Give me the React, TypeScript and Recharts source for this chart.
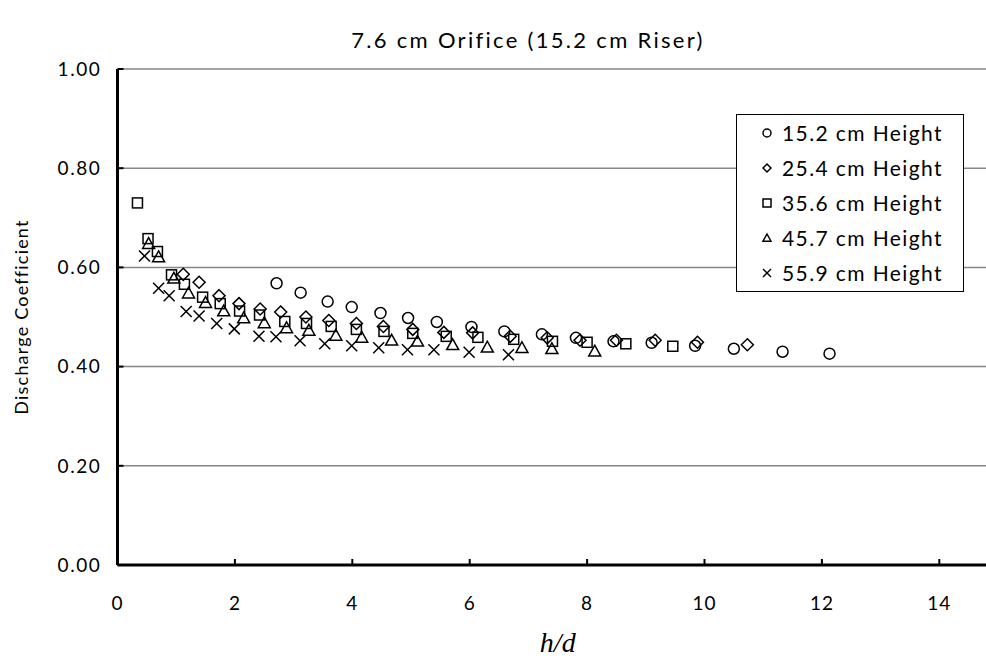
import { ScatterChart, Scatter, XAxis, YAxis, CartesianGrid, Legend } from "recharts";

const FONT = "Lato, 'Open Sans', sans-serif";

// h/d and discharge coefficient per riser height
const hd152 = [2.71, 3.12, 3.58, 3.99, 4.48, 4.95, 5.44, 6.03, 6.59, 7.23, 7.81, 8.45, 9.1, 9.84, 10.5, 11.33, 12.13];
const cd152 = [0.568, 0.549, 0.531, 0.52, 0.508, 0.498, 0.49, 0.48, 0.471, 0.465, 0.458, 0.451, 0.448, 0.442, 0.436, 0.43, 0.426];

const hd254 = [1.12, 1.39, 1.73, 2.07, 2.43, 2.78, 3.21, 3.6, 4.07, 4.53, 5.03, 5.56, 6.05, 6.69, 7.32, 7.88, 8.5, 9.16, 9.88, 10.73];
const cd254 = [0.586, 0.57, 0.543, 0.527, 0.516, 0.51, 0.5, 0.493, 0.487, 0.481, 0.475, 0.469, 0.468, 0.461, 0.458, 0.453, 0.453, 0.453, 0.449, 0.444];

const hd356 = [0.34, 0.52, 0.68, 0.92, 1.14, 1.45, 1.75, 2.08, 2.42, 2.85, 3.22, 3.64, 4.07, 4.54, 5.03, 5.6, 6.14, 6.75, 7.41, 8.0, 8.66, 9.46];
const cd356 = [0.73, 0.658, 0.632, 0.585, 0.566, 0.54, 0.527, 0.512, 0.504, 0.491, 0.487, 0.481, 0.475, 0.471, 0.467, 0.461, 0.459, 0.455, 0.451, 0.449, 0.446, 0.441];

const hd457 = [0.53, 0.7, 0.96, 1.21, 1.5, 1.81, 2.15, 2.5, 2.88, 3.26, 3.72, 4.16, 4.67, 5.11, 5.71, 6.3, 6.89, 7.4, 8.13];
const cd457 = [0.648, 0.621, 0.578, 0.548, 0.529, 0.512, 0.498, 0.488, 0.478, 0.473, 0.463, 0.459, 0.453, 0.451, 0.444, 0.439, 0.438, 0.436, 0.431];

const hd559 = [0.46, 0.7, 0.88, 1.17, 1.39, 1.69, 1.99, 2.41, 2.7, 3.11, 3.53, 3.99, 4.45, 4.94, 5.39, 5.99, 6.66];
const cd559 = [0.623, 0.558, 0.543, 0.511, 0.502, 0.487, 0.476, 0.461, 0.46, 0.452, 0.446, 0.442, 0.438, 0.434, 0.434, 0.429, 0.424];

const seriesNames = ["15.2 cm Height", "25.4 cm Height", "35.6 cm Height", "45.7 cm Height", "55.9 cm Height"];
const xTicks = [0, 2, 4, 6, 8, 10, 12, 14];
const yTicks = [0, 0.2, 0.4, 0.6, 0.8, 1.0];

const toPoints = (xs: number[], ys: number[]) => xs.map((x, i) => ({ x, y: ys[i] }));

// marker drawing, s = half size
type MarkProps = { cx: number; cy: number; s: number };
const stroke = { fill: "none", stroke: "#000", strokeWidth: 1.5 };

const CircleM = ({ cx, cy, s }: MarkProps) => <circle cx={cx} cy={cy} r={s} {...stroke} />;
const DiamondM = ({ cx, cy, s }: MarkProps) => (
  <polygon points={`${cx},${cy - s} ${cx + s},${cy} ${cx},${cy + s} ${cx - s},${cy}`} {...stroke} />
);
const SquareM = ({ cx, cy, s }: MarkProps) => <rect x={cx - s} y={cy - s} width={2 * s} height={2 * s} {...stroke} />;
const TriangleM = ({ cx, cy, s }: MarkProps) => (
  <polygon points={`${cx},${cy - s} ${cx + s},${cy + s * 0.8} ${cx - s},${cy + s * 0.8}`} {...stroke} />
);
const CrossM = ({ cx, cy, s }: MarkProps) => (
  <g {...stroke}>
    <line x1={cx - s} y1={cy - s} x2={cx + s} y2={cy + s} />
    <line x1={cx - s} y1={cy + s} x2={cx + s} y2={cy - s} />
  </g>
);

const markers = [CircleM, DiamondM, SquareM, TriangleM, CrossM];
const plotSize = [5.5, 6, 5, 6, 5.5];

const series = [
  toPoints(hd152, cd152),
  toPoints(hd254, cd254),
  toPoints(hd356, cd356),
  toPoints(hd457, cd457),
  toPoints(hd559, cd559),
];

function LegendBox() {
  return (
    <div
      style={{
        width: 228,
        height: 178,
        boxSizing: "border-box",
        border: "1.5px solid #000",
        background: "#fff",
        fontFamily: FONT,
        fontSize: 21,
        letterSpacing: 1.4,
        color: "#000",
      }}
    >
      {seriesNames.map((name, i) => {
        const M = markers[i];
        return (
          <div key={name} style={{ display: "flex", alignItems: "center", height: 35, paddingLeft: 23 }}>
            <svg width={14} height={14} style={{ marginRight: 8 }}>
              <M cx={7} cy={7} s={4} />
            </svg>
            <span>{name}</span>
          </div>
        );
      })}
    </div>
  );
}

export default function App() {
  return (
    <div style={{ position: "fixed", left: 0, top: 0, width: 986, height: 669, overflow: "hidden", background: "#fff" }}>
      <div
        style={{
          position: "absolute",
          left: 0,
          width: 1056,
          top: 26,
          textAlign: "center",
          fontFamily: FONT,
          fontSize: 22,
          letterSpacing: 2.3,
          color: "#000",
        }}
      >
        7.6 cm Orifice (15.2 cm Riser)
      </div>
      <ScatterChart width={1010} height={669} margin={{ top: 69, right: 12, bottom: 44, left: 57.5 }}>
        <CartesianGrid horizontal vertical={false} stroke="#868686" strokeWidth={1.5} />
        <XAxis
          type="number"
          dataKey="x"
          domain={[0, 15]}
          ticks={xTicks}
          height={60}
          tickSize={-6}
          tickMargin={38}
          axisLine={{ stroke: "#000", strokeWidth: 3 }}
          tickLine={{ stroke: "#000", strokeWidth: 2 }}
          tick={{ fill: "#000", fontSize: 19, fontFamily: FONT, letterSpacing: 1 }}
          label={{
            value: "h/d",
            position: "bottom",
            offset: 7,
            fill: "#000",
            fontSize: 28,
            fontFamily: "'Liberation Serif', serif",
            fontStyle: "italic",
          }}
        />
        <YAxis
          type="number"
          dataKey="y"
          domain={[0, 1]}
          ticks={yTicks}
          width={60}
          tickSize={-6}
          tickMargin={22}
          tickFormatter={(v: number) => v.toFixed(2)}
          axisLine={{ stroke: "#000", strokeWidth: 3 }}
          tickLine={{ stroke: "#000", strokeWidth: 2 }}
          tick={{ fill: "#000", fontSize: 19, fontFamily: FONT, letterSpacing: 1.6 }}
          label={{
            value: "Discharge Coefficient",
            angle: -90,
            position: "left",
            offset: 35.5,
            textAnchor: "middle",
            fill: "#000",
            fontSize: 18,
            fontFamily: FONT,
            letterSpacing: 1.2,
          }}
        />
        <Legend
          layout="vertical"
          align="center"
          verticalAlign="middle"
          wrapperStyle={{ left: 736, top: 114, width: 228, height: 178 }}
          content={() => <LegendBox />}
        />
        {series.map((pts, i) => {
          const M = markers[i];
          return (
            <Scatter
              key={seriesNames[i]}
              name={seriesNames[i]}
              data={pts}
              isAnimationActive={false}
              shape={(p: any) => <M cx={p.cx} cy={p.cy} s={plotSize[i]} />}
            />
          );
        })}
      </ScatterChart>
    </div>
  );
}
